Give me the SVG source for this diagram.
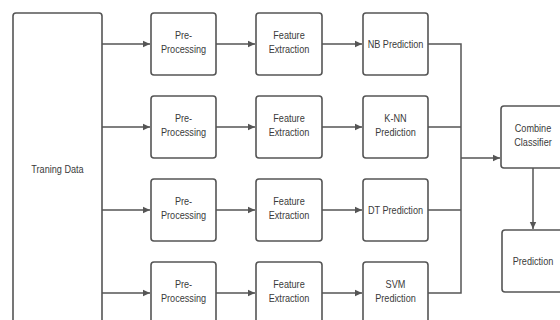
<svg xmlns="http://www.w3.org/2000/svg" width="560" height="320" viewBox="0 0 560 320">
<style>
.box{fill:#fff;stroke:#555;stroke-width:1.6}
.t{font-family:"Liberation Sans",Arial,sans-serif;font-size:11px;fill:#3a3a3a;text-anchor:middle}
.c{fill:none;stroke:#555;stroke-width:1.5}
</style>
<defs>
<marker id="ah" markerWidth="8" markerHeight="8" refX="7" refY="4" orient="auto" markerUnits="userSpaceOnUse">
<path d="M0,0.8 L7,4 L0,7.2 Z" fill="#555"/>
</marker>
</defs>
<rect width="560" height="320" fill="#fff"/>
<g id="connectors">
<path class="c" d="M102,44H150" marker-end="url(#ah)"/>
<path class="c" d="M102,127H150" marker-end="url(#ah)"/>
<path class="c" d="M102,210H150" marker-end="url(#ah)"/>
<path class="c" d="M102,293H150" marker-end="url(#ah)"/>
<path class="c" d="M216,44H255" marker-end="url(#ah)"/>
<path class="c" d="M216,127H255" marker-end="url(#ah)"/>
<path class="c" d="M216,210H255" marker-end="url(#ah)"/>
<path class="c" d="M216,293H255" marker-end="url(#ah)"/>
<path class="c" d="M322,44H362" marker-end="url(#ah)"/>
<path class="c" d="M322,127H362" marker-end="url(#ah)"/>
<path class="c" d="M322,210H362" marker-end="url(#ah)"/>
<path class="c" d="M322,293H362" marker-end="url(#ah)"/>
<path class="c" d="M428,44H461V293H428"/>
<path class="c" d="M428,127H461"/>
<path class="c" d="M428,210H461"/>
<path class="c" d="M461,158H500" marker-end="url(#ah)"/>
<path class="c" d="M533,168V229" marker-end="url(#ah)"/>
</g>
<g id="training">
<rect class="box" x="13" y="13" width="89" height="320" rx="3"/>
<text class="t" transform="translate(57.5,173) scale(0.83,1)">Traning Data</text>
</g>
<g id="pre1"><rect class="box" x="151" y="13" width="65" height="62" rx="3"/><text class="t" transform="translate(183.5,38.5) scale(0.83,1)">Pre-</text><text class="t" transform="translate(183.5,52.5) scale(0.83,1)">Processing</text></g>
<g id="pre2"><rect class="box" x="151" y="96" width="65" height="62" rx="3"/><text class="t" transform="translate(183.5,121.5) scale(0.83,1)">Pre-</text><text class="t" transform="translate(183.5,135.5) scale(0.83,1)">Processing</text></g>
<g id="pre3"><rect class="box" x="151" y="179" width="65" height="62" rx="3"/><text class="t" transform="translate(183.5,204.5) scale(0.83,1)">Pre-</text><text class="t" transform="translate(183.5,218.5) scale(0.83,1)">Processing</text></g>
<g id="pre4"><rect class="box" x="151" y="262" width="65" height="62" rx="3"/><text class="t" transform="translate(183.5,287.5) scale(0.83,1)">Pre-</text><text class="t" transform="translate(183.5,301.5) scale(0.83,1)">Processing</text></g>
<g id="fe1"><rect class="box" x="256" y="13" width="66" height="62" rx="3"/><text class="t" transform="translate(289,38.5) scale(0.83,1)">Feature</text><text class="t" transform="translate(289,52.5) scale(0.83,1)">Extraction</text></g>
<g id="fe2"><rect class="box" x="256" y="96" width="66" height="62" rx="3"/><text class="t" transform="translate(289,121.5) scale(0.83,1)">Feature</text><text class="t" transform="translate(289,135.5) scale(0.83,1)">Extraction</text></g>
<g id="fe3"><rect class="box" x="256" y="179" width="66" height="62" rx="3"/><text class="t" transform="translate(289,204.5) scale(0.83,1)">Feature</text><text class="t" transform="translate(289,218.5) scale(0.83,1)">Extraction</text></g>
<g id="fe4"><rect class="box" x="256" y="262" width="66" height="62" rx="3"/><text class="t" transform="translate(289,287.5) scale(0.83,1)">Feature</text><text class="t" transform="translate(289,301.5) scale(0.83,1)">Extraction</text></g>
<g id="nb"><rect class="box" x="363" y="13" width="65" height="62" rx="3"/><text class="t" transform="translate(395.5,47.5) scale(0.83,1)">NB Prediction</text></g>
<g id="knn"><rect class="box" x="363" y="96" width="65" height="62" rx="3"/><text class="t" transform="translate(395.5,121.5) scale(0.83,1)">K-NN</text><text class="t" transform="translate(395.5,135.5) scale(0.83,1)">Prediction</text></g>
<g id="dt"><rect class="box" x="363" y="179" width="65" height="62" rx="3"/><text class="t" transform="translate(395.5,213.5) scale(0.83,1)">DT Prediction</text></g>
<g id="svm"><rect class="box" x="363" y="262" width="65" height="62" rx="3"/><text class="t" transform="translate(395.5,287.5) scale(0.83,1)">SVM</text><text class="t" transform="translate(395.5,301.5) scale(0.83,1)">Prediction</text></g>
<g id="combine"><rect class="box" x="501" y="106" width="65" height="62" rx="3"/><text class="t" transform="translate(533,132) scale(0.83,1)">Combine</text><text class="t" transform="translate(533,146) scale(0.83,1)">Classifier</text></g>
<g id="prediction"><rect class="box" x="502" y="230" width="64" height="62" rx="3"/><text class="t" transform="translate(533,264.5) scale(0.83,1)">Prediction</text></g>
</svg>
